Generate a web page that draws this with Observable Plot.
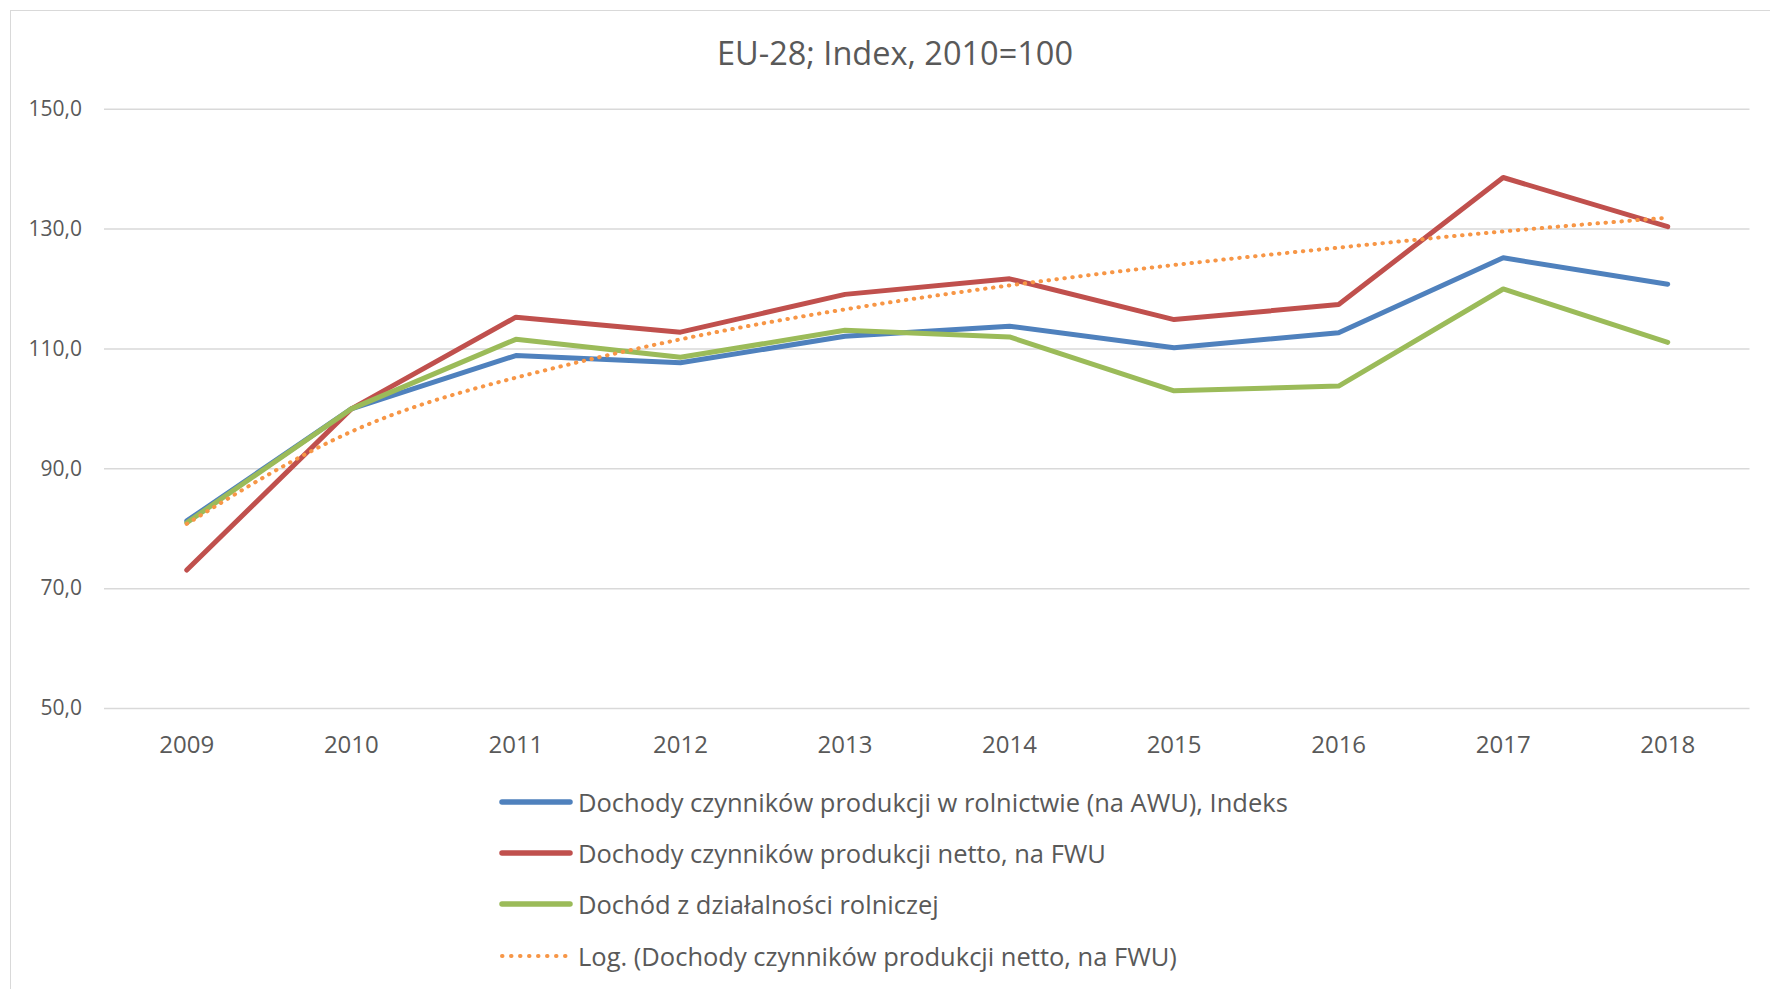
<!DOCTYPE html>
<html>
<head>
<meta charset="utf-8">
<script src="https://cdn.jsdelivr.net/npm/d3@7"></script>
<script src="https://cdn.jsdelivr.net/npm/@observablehq/plot@0.6"></script>
<style>
  html, body { margin: 0; padding: 0; background: #ffffff; }
  #wrap { position: relative; width: 1770px; height: 989px; overflow: hidden; font-family: "Open Sans", sans-serif; color: #595959; }
  #frame { position: absolute; left: 10px; top: 10px; width: 1790px; height: 1000px; border: 1.5px solid #D9D9D9; box-sizing: border-box; pointer-events: none; }
  #title { position: absolute; left: 10px; width: 1770px; top: 37px; text-align: center; font-size: 32.5px; line-height: 32.5px; white-space: nowrap; }
  #chart { position: absolute; left: 0; top: 80px; }
  #legend { position: absolute; left: 499px; top: 776px; }
  .row { display: flex; align-items: center; height: 51.3px; font-size: 25.5px; white-space: nowrap; }
  .row svg { flex: none; margin-right: 5px; }
</style>
</head>
<body>
<div id="wrap">
  <div id="title"></div>
  <div id="chart"></div>
  <div id="legend"></div>
  <div id="frame"></div>
</div>
<script>
const titleText = "EU-28; Index, 2010=100";
const years = ["2009","2010","2011","2012","2013","2014","2015","2016","2017","2018"];
const awu   = [81.3, 100.0, 108.9, 107.7, 112.1, 113.8, 110.2, 112.7, 125.2, 120.8];
const fwu   = [73.1, 100.0, 115.3, 112.8, 119.1, 121.7, 114.9, 117.4, 138.6, 130.4];
const farm  = [81.0, 100.0, 111.6, 108.6, 113.1, 112.0, 103.0, 103.8, 120.0, 111.1];
const trend = [80.8, 96.2, 105.2, 111.6, 116.6, 120.6, 124.0, 126.9, 129.6, 131.9];
const seriesNames = [
  "Dochody czynników produkcji w rolnictwie (na AWU), Indeks",
  "Dochody czynników produkcji netto, na FWU",
  "Dochód z działalności rolniczej",
  "Log. (Dochody czynników produkcji netto, na FWU)"
];
const seriesColors = ["#4F81BD", "#C0504D", "#9BBB59", "#F79646"];
const yTicks = [50, 70, 90, 110, 130, 150];

const fmt = d => d.toFixed(1).replace(".", ",");
const dotted = {strokeWidth: 4, strokeDasharray: "0.5 7.5", strokeLinecap: "round"};

document.getElementById("title").textContent = titleText;

const chart = Plot.plot({
  width: 1770,
  height: 700,
  marginLeft: 104,
  marginRight: 20.5,
  marginTop: 28.7,
  marginBottom: 72,
  x: {type: "point", domain: years, padding: 0.5, round: false, label: null},
  y: {domain: [50, 150], label: null},
  style: {fontFamily: "Open Sans", fontSize: "21px", color: "#595959", background: "transparent", overflow: "visible"},
  marks: [
    Plot.gridY(yTicks, {stroke: "#D9D9D9", strokeOpacity: 1, strokeWidth: 1.5}),
    Plot.axisY(yTicks, {tickSize: 0, tickPadding: 22.5, tickFormat: fmt, fontSize: 21, label: null}),
    Plot.axisX({tickSize: 0, tickPadding: 27, fontSize: 24, label: null}),
    Plot.line(awu,  {x: years, y: d => d, stroke: seriesColors[0], strokeWidth: 5}),
    Plot.line(fwu,  {x: years, y: d => d, stroke: seriesColors[1], strokeWidth: 5}),
    Plot.line(farm, {x: years, y: d => d, stroke: seriesColors[2], strokeWidth: 5}),
    Plot.line(trend, {x: years, y: d => d, stroke: seriesColors[3], curve: "natural", ...dotted})
  ]
});
document.getElementById("chart").appendChild(chart);

const legend = document.getElementById("legend");
seriesNames.forEach((name, i) => {
  const row = document.createElement("div");
  row.className = "row";
  const isDot = i === 3;
  row.innerHTML =
    `<svg width="74" height="10"><line x1="3" x2="71" y1="5" y2="5" stroke="${seriesColors[i]}" ` +
    (isDot ? `stroke-width="4" stroke-dasharray="0.5 8.5" stroke-linecap="round"` : `stroke-width="5.5" stroke-linecap="round"`) +
    `/></svg><span>${name}</span>`;
  legend.appendChild(row);
});
</script>
</body>
</html>
